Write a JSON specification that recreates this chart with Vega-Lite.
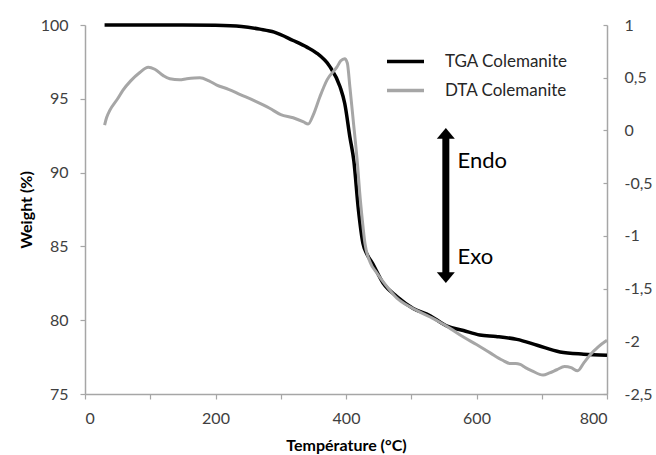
{
  "$schema": "https://vega.github.io/schema/vega-lite/v6.json",
  "width": 522,
  "height": 369,
  "autosize": "none",
  "padding": {"left": 85, "top": 25, "right": 49, "bottom": 61},
  "background": "white",
  "config": {
    "view": {"stroke": null},
    "font": "Lato",
    "axis": {
      "grid": false,
      "domainColor": "#A6A6A6",
      "domainWidth": 1.5,
      "tickColor": "#A6A6A6",
      "tickWidth": 1.2,
      "labelFont": "Lato",
      "labelFontSize": 16,
      "labelColor": "#404040",
      "titleFont": "Lato",
      "titleFontSize": 16,
      "titleFontWeight": "bold",
      "titleColor": "#000000"
    }
  },
  "datasets": {
    "tga": [
      {"T": 30, "W": 100, "series": "TGA Colemanite"},
      {"T": 150, "W": 100, "series": "TGA Colemanite"},
      {"T": 200, "W": 99.98, "series": "TGA Colemanite"},
      {"T": 240, "W": 99.9, "series": "TGA Colemanite"},
      {"T": 268, "W": 99.72, "series": "TGA Colemanite"},
      {"T": 290, "W": 99.52, "series": "TGA Colemanite"},
      {"T": 319, "W": 98.95, "series": "TGA Colemanite"},
      {"T": 340, "W": 98.5, "series": "TGA Colemanite"},
      {"T": 355, "W": 98.1, "series": "TGA Colemanite"},
      {"T": 375, "W": 97.2, "series": "TGA Colemanite"},
      {"T": 391, "W": 95.8, "series": "TGA Colemanite"},
      {"T": 398, "W": 94.7, "series": "TGA Colemanite"},
      {"T": 406, "W": 92.4, "series": "TGA Colemanite"},
      {"T": 412, "W": 90.8, "series": "TGA Colemanite"},
      {"T": 419, "W": 87.5, "series": "TGA Colemanite"},
      {"T": 426, "W": 85.2, "series": "TGA Colemanite"},
      {"T": 433, "W": 84.4, "series": "TGA Colemanite"},
      {"T": 440, "W": 83.9, "series": "TGA Colemanite"},
      {"T": 457, "W": 82.5, "series": "TGA Colemanite"},
      {"T": 478, "W": 81.6, "series": "TGA Colemanite"},
      {"T": 503, "W": 80.8, "series": "TGA Colemanite"},
      {"T": 529, "W": 80.3, "series": "TGA Colemanite"},
      {"T": 555, "W": 79.6, "series": "TGA Colemanite"},
      {"T": 580, "W": 79.3, "series": "TGA Colemanite"},
      {"T": 605, "W": 79.0, "series": "TGA Colemanite"},
      {"T": 630, "W": 78.9, "series": "TGA Colemanite"},
      {"T": 662, "W": 78.7, "series": "TGA Colemanite"},
      {"T": 693, "W": 78.3, "series": "TGA Colemanite"},
      {"T": 728, "W": 77.85, "series": "TGA Colemanite"},
      {"T": 764, "W": 77.7, "series": "TGA Colemanite"},
      {"T": 800, "W": 77.63, "series": "TGA Colemanite"}
    ],
    "dta": [
      {"T": 30, "D": 0.05, "series": "DTA Colemanite"},
      {"T": 33, "D": 0.12, "series": "DTA Colemanite"},
      {"T": 38, "D": 0.19, "series": "DTA Colemanite"},
      {"T": 50, "D": 0.3, "series": "DTA Colemanite"},
      {"T": 58, "D": 0.38, "series": "DTA Colemanite"},
      {"T": 70, "D": 0.47, "series": "DTA Colemanite"},
      {"T": 84, "D": 0.55, "series": "DTA Colemanite"},
      {"T": 97, "D": 0.6, "series": "DTA Colemanite"},
      {"T": 107, "D": 0.58, "series": "DTA Colemanite"},
      {"T": 120, "D": 0.52, "series": "DTA Colemanite"},
      {"T": 130, "D": 0.49, "series": "DTA Colemanite"},
      {"T": 145, "D": 0.48, "series": "DTA Colemanite"},
      {"T": 156, "D": 0.49, "series": "DTA Colemanite"},
      {"T": 176, "D": 0.5, "series": "DTA Colemanite"},
      {"T": 190, "D": 0.47, "series": "DTA Colemanite"},
      {"T": 202, "D": 0.43, "series": "DTA Colemanite"},
      {"T": 220, "D": 0.39, "series": "DTA Colemanite"},
      {"T": 238, "D": 0.34, "series": "DTA Colemanite"},
      {"T": 260, "D": 0.28, "series": "DTA Colemanite"},
      {"T": 283, "D": 0.21, "series": "DTA Colemanite"},
      {"T": 300, "D": 0.15, "series": "DTA Colemanite"},
      {"T": 319, "D": 0.12, "series": "DTA Colemanite"},
      {"T": 335, "D": 0.08, "series": "DTA Colemanite"},
      {"T": 342, "D": 0.06, "series": "DTA Colemanite"},
      {"T": 350, "D": 0.15, "series": "DTA Colemanite"},
      {"T": 360, "D": 0.32, "series": "DTA Colemanite"},
      {"T": 371, "D": 0.48, "series": "DTA Colemanite"},
      {"T": 386, "D": 0.6, "series": "DTA Colemanite"},
      {"T": 392, "D": 0.66, "series": "DTA Colemanite"},
      {"T": 398, "D": 0.68, "series": "DTA Colemanite"},
      {"T": 402, "D": 0.64, "series": "DTA Colemanite"},
      {"T": 406, "D": 0.41, "series": "DTA Colemanite"},
      {"T": 411, "D": 0.1, "series": "DTA Colemanite"},
      {"T": 418, "D": -0.35, "series": "DTA Colemanite"},
      {"T": 421, "D": -0.59, "series": "DTA Colemanite"},
      {"T": 425, "D": -0.85, "series": "DTA Colemanite"},
      {"T": 429, "D": -1.07, "series": "DTA Colemanite"},
      {"T": 437, "D": -1.25, "series": "DTA Colemanite"},
      {"T": 447, "D": -1.35, "series": "DTA Colemanite"},
      {"T": 460, "D": -1.46, "series": "DTA Colemanite"},
      {"T": 478, "D": -1.59, "series": "DTA Colemanite"},
      {"T": 500, "D": -1.68, "series": "DTA Colemanite"},
      {"T": 529, "D": -1.77, "series": "DTA Colemanite"},
      {"T": 544, "D": -1.82, "series": "DTA Colemanite"},
      {"T": 560, "D": -1.88, "series": "DTA Colemanite"},
      {"T": 580, "D": -1.96, "series": "DTA Colemanite"},
      {"T": 600, "D": -2.03, "series": "DTA Colemanite"},
      {"T": 621, "D": -2.11, "series": "DTA Colemanite"},
      {"T": 640, "D": -2.18, "series": "DTA Colemanite"},
      {"T": 651, "D": -2.21, "series": "DTA Colemanite"},
      {"T": 660, "D": -2.21, "series": "DTA Colemanite"},
      {"T": 667, "D": -2.22, "series": "DTA Colemanite"},
      {"T": 675, "D": -2.25, "series": "DTA Colemanite"},
      {"T": 685, "D": -2.28, "series": "DTA Colemanite"},
      {"T": 702, "D": -2.32, "series": "DTA Colemanite"},
      {"T": 712, "D": -2.3, "series": "DTA Colemanite"},
      {"T": 723, "D": -2.27, "series": "DTA Colemanite"},
      {"T": 735, "D": -2.24, "series": "DTA Colemanite"},
      {"T": 745, "D": -2.25, "series": "DTA Colemanite"},
      {"T": 755, "D": -2.28, "series": "DTA Colemanite"},
      {"T": 765, "D": -2.2, "series": "DTA Colemanite"},
      {"T": 774, "D": -2.13, "series": "DTA Colemanite"},
      {"T": 787, "D": -2.05, "series": "DTA Colemanite"},
      {"T": 800, "D": -1.99, "series": "DTA Colemanite"}
    ],
    "arrow": [
      {"T": 553, "W1": 92.41, "W2": 83.13}
    ],
    "notes": [
      {"T": 571, "W": 90.8, "label": "Endo"},
      {"T": 571, "W": 84.3, "label": "Exo"}
    ]
  },
  "resolve": {"scale": {"y": "independent"}},
  "layer": [
    {
      "layer": [
        {
          "data": {"name": "tga"},
          "mark": {"type": "line", "strokeWidth": 3.5, "interpolate": "monotone"},
          "encoding": {
            "x": {
              "field": "T", "type": "quantitative",
              "scale": {"domain": [0, 800], "nice": false},
              "axis": {
                "title": "Température (°C)",
                "values": [0, 50, 100, 150, 200, 250, 300, 350, 400, 450, 500, 550, 600, 650, 700, 750, 800],
                "labelExpr": "datum.value % 200 === 0 ? datum.label : ''",
                "tickSize": 5,
                "labelPadding": 11,
                "titleY": 51,
                "titleBaseline": "middle"
              }
            },
            "y": {
              "field": "W", "type": "quantitative",
              "scale": {"domain": [75, 100], "nice": false, "zero": false},
              "axis": {
                "title": "Weight (%)",
                "values": [75, 77.5, 80, 82.5, 85, 87.5, 90, 92.5, 95, 97.5, 100],
                "labelExpr": "datum.value % 5 === 0 ? datum.label : ''",
                "tickSize": 5,
                "labelPadding": 12,
                "titleX": -54,
                "titleBaseline": "alphabetic"
              }
            },
            "color": {
              "field": "series", "type": "nominal",
              "scale": {"domain": ["TGA Colemanite", "DTA Colemanite"], "range": ["#000000", "#A6A6A6"]},
              "legend": {
                "title": null,
                "orient": "none",
                "legendX": 300,
                "legendY": 16,
                "padding": 0,
                "symbolType": "stroke",
                "symbolSize": 1369,
                "symbolStrokeWidth": 3.5,
                "labelFont": "Lato",
                "labelFontSize": 17,
                "labelColor": "#262626",
                "labelOffset": 19,
                "rowPadding": -4
              }
            }
          }
        },
        {
          "data": {"name": "arrow"},
          "mark": {"type": "rule", "strokeWidth": 7, "color": "#000000"},
          "encoding": {
            "x": {"field": "T", "type": "quantitative"},
            "y": {"field": "W1", "type": "quantitative"},
            "y2": {"field": "W2"}
          }
        },
        {
          "data": {"name": "arrow"},
          "mark": {"type": "point", "filled": true, "opacity": 1, "color": "#000000", "size": 324, "shape": "M0,-1L-1,0.2L1,0.2Z"},
          "encoding": {
            "x": {"field": "T", "type": "quantitative"},
            "y": {"field": "W1", "type": "quantitative"}
          }
        },
        {
          "data": {"name": "arrow"},
          "mark": {"type": "point", "filled": true, "opacity": 1, "color": "#000000", "size": 324, "shape": "M0,1L-1,-0.2L1,-0.2Z"},
          "encoding": {
            "x": {"field": "T", "type": "quantitative"},
            "y": {"field": "W2", "type": "quantitative"}
          }
        },
        {
          "data": {"name": "notes"},
          "mark": {"type": "text", "align": "left", "baseline": "middle", "font": "Lato", "fontSize": 22, "color": "#000000"},
          "encoding": {
            "x": {"field": "T", "type": "quantitative"},
            "y": {"field": "W", "type": "quantitative"},
            "text": {"field": "label"}
          }
        }
      ]
    },
    {
      "data": {"name": "dta"},
      "mark": {"type": "line", "strokeWidth": 3, "interpolate": "monotone"},
      "encoding": {
        "x": {"field": "T", "type": "quantitative"},
        "y": {
          "field": "D", "type": "quantitative",
          "scale": {"domain": [-2.5, 1], "nice": false, "zero": false},
          "axis": {
            "orient": "right",
            "title": null,
            "values": [-2.5, -2, -1.5, -1, -0.5, 0, 0.5, 1],
            "labelExpr": "replace(toString(datum.value), '.', ',')",
            "tickSize": -4,
            "labelPadding": 21
          }
        },
        "color": {"field": "series", "type": "nominal"}
      }
    }
  ]
}
